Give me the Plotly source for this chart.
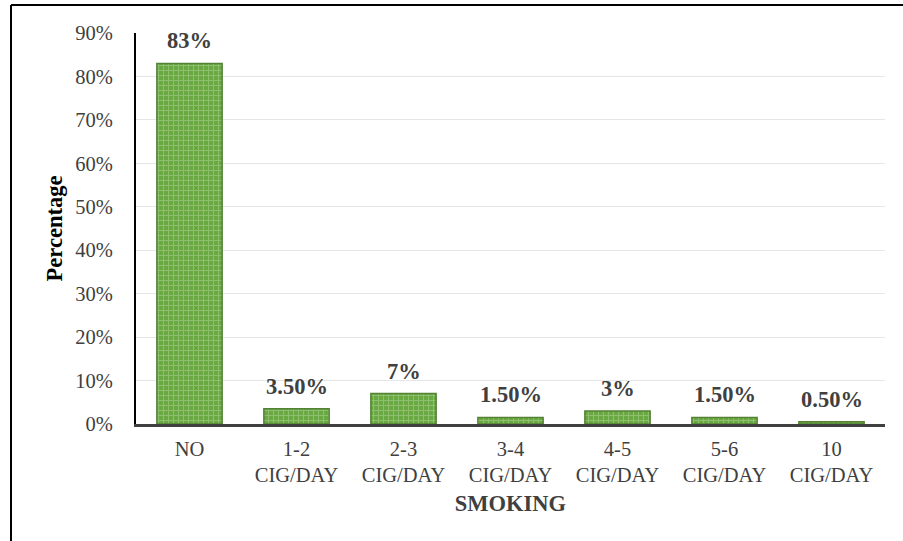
import plotly.graph_objects as go

categories = ["NO", "1-2<br>CIG/DAY", "2-3<br>CIG/DAY", "3-4<br>CIG/DAY",
              "4-5<br>CIG/DAY", "5-6<br>CIG/DAY", "10<br>CIG/DAY"]
values = [83, 3.5, 7, 1.5, 3, 1.5, 0.5]
labels = ["83%", "3.50%", "7%", "1.50%", "3%", "1.50%", "0.50%"]
y_ticks = [0, 10, 20, 30, 40, 50, 60, 70, 80, 90]
y_tick_text = ["0%", "10%", "20%", "30%", "40%", "50%", "60%", "70%", "80%", "90%"]

FONT = "Liberation Serif"

fig = go.Figure()
fig.add_trace(go.Bar(
    x=categories, y=values,
    marker=dict(
        color="#70ad47",
        line=dict(color="#548235", width=1.5),
        pattern=dict(shape="+", fgcolor="#b4d89c", bgcolor="#6aa842",
                     size=5, solidity=0.35),
    ),
    width=0.61,
))

for c, v, t in zip(categories, values, labels):
    fig.add_annotation(x=c, y=v, text="<b>%s</b>" % t, showarrow=False,
                       yanchor="bottom", yshift=8,
                       font=dict(family=FONT, size=22.5, color="#404040"))

L, R, T, B = 136, 18, 33, 117
W, H = 903, 541
pw, ph = W - L - R, H - T - B
bx = (11 - L) / pw
by = 1 + (T - 5) / ph
fig.add_shape(type="line", xref="paper", yref="paper",
              x0=bx, x1=(W + 5 - L) / pw, y0=by, y1=by,
              line=dict(color="black", width=2))
fig.add_shape(type="line", xref="paper", yref="paper",
              x0=bx, x1=bx, y0=by, y1=-(B + 5) / ph,
              line=dict(color="black", width=2))

fig.update_layout(
    width=W, height=H,
    margin=dict(l=L, r=R, t=T, b=B),
    paper_bgcolor="white", plot_bgcolor="white",
    showlegend=False,
    font=dict(family=FONT, size=20.5, color="#404040"),
    xaxis=dict(
        showline=True, linecolor="#404040", linewidth=3,
        ticks="", ticklabelstandoff=4,
        tickfont=dict(family=FONT, size=20.5, color="#404040"),
        title=dict(text="<b>SMOKING</b>", standoff=10,
                   font=dict(family=FONT, size=22.5, color="#404040")),
    ),
    yaxis=dict(
        range=[0, 90], tickmode="array", tickvals=y_ticks, ticktext=y_tick_text,
        showline=True, linecolor="black", linewidth=2,
        showgrid=True, gridcolor="#e6e6e6", gridwidth=1,
        zeroline=False, ticks="", ticklabelstandoff=17,
        tickfont=dict(family=FONT, size=20.5, color="#404040"),
        title=dict(text="<b>Percentage</b>", standoff=6,
                   font=dict(family=FONT, size=22.5, color="#000000")),
    ),
)

fig.write_html("out.html")
